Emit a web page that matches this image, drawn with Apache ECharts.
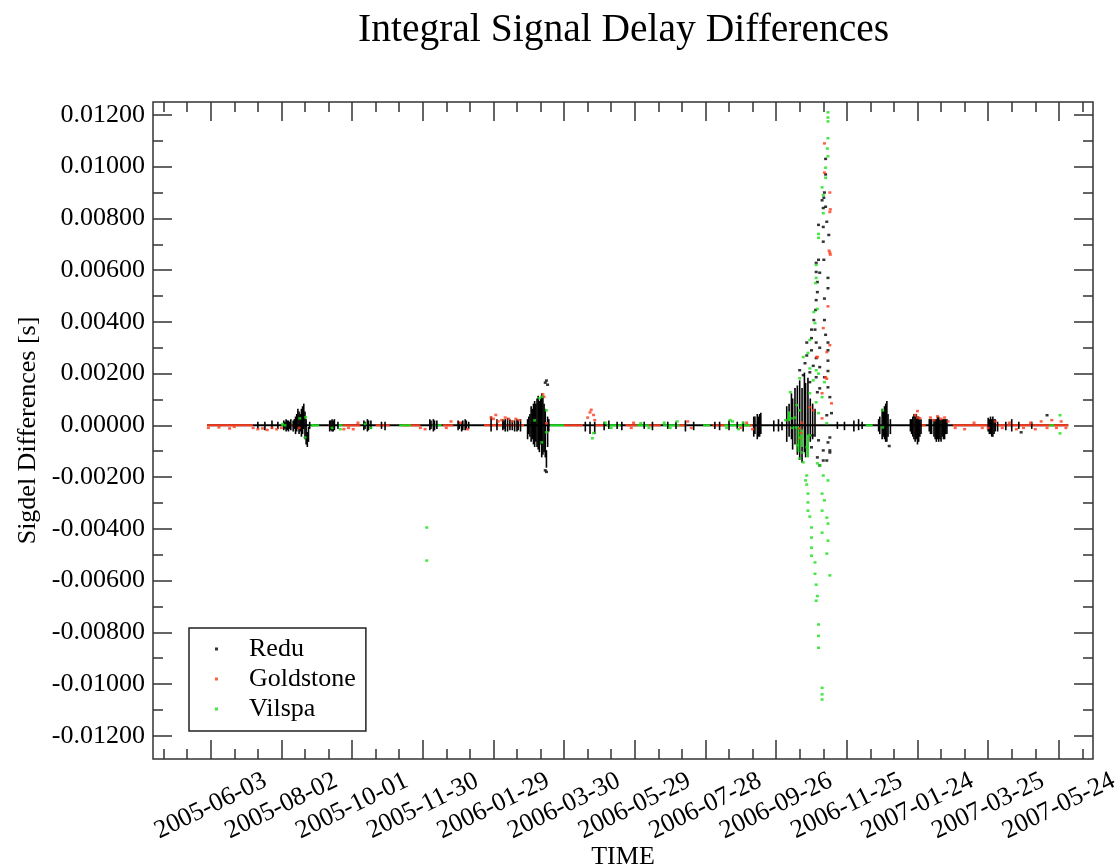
<!DOCTYPE html>
<html><head><meta charset="utf-8">
<script src="https://cdn.jsdelivr.net/npm/echarts@6/dist/echarts.min.js"></script>
<style>html,body{margin:0;padding:0;background:#fff}#chart{width:1120px;height:867px}</style>
</head><body><div id="chart"></div>
<script>
// ---- data (x = days after BASE_DATE, y = values in units of VALUE_UNIT seconds) ----
const BASE_DATE = '2005-06-03';
const VALUE_UNIT = 1e-4;
const seriesNames = ['Redu', 'Goldstone', 'Vilspa'];
const xTickLabels = ['2005-06-03','2005-08-02','2005-10-01','2005-11-30','2006-01-29','2006-03-30',
  '2006-05-29','2006-07-28','2006-09-26','2006-11-25','2007-01-24','2007-03-25','2007-05-24'];
const xMinorTickDays = [-40,-20,20,40,80,100,140,160,200,220,260,280,320,340,380,400,440,460,500,520,
  560,580,620,640,680,700,740];
const yTickValues = [-0.012,-0.010,-0.008,-0.006,-0.004,-0.002,0,0.002,0.004,0.006,0.008,0.010,0.012];
const yMinorTickValues = [-0.011,-0.009,-0.007,-0.005,-0.003,-0.001,0.001,0.003,0.005,0.007,0.009,0.011];

// runs of points sitting on zero: [startDay, endDay, value]
const reduLine = [[-3, 728, 0]];
const goldLine = [[-3,36,0],[62,70,0],[100,104,0],[112,127,0],[140,152,0],[163,178,0],[197,206,0],
  [232,266,0],[300,316,0],[326,334,0],[352,362,0],[372,382,0],[396,404,0],[426,437,0],[453,460,0],
  [596,607,0],[630,728,0]];
const vilLine = [[60,68,0],[86,92,0],[108,112,0],[160,170,0],[188,196,0],[288,300,0],[336,348,0],
  [362,372,0],[384,398,0],[418,424,0],[436,458,0],[556,562,0],[712,716,0]];

// dense same-day clusters: [day, low, high]
const reduBars = [[40,-1,1],[46,-1.5,1],[52,-1,1.5],[57,-1,1],
  [62,-1.5,1.5],[63,-1,1],[64,-2,2],[65,-1.5,1.5],[66,-2,1.5],[67,-1,1],[68,-1.5,2],[70,-2,1.5],[71,-1,2],
  [72,-3,3],[73,-2,4],[74,-1,6],[75,-3,5],[76,-2,4],[77,-4,6],[78,-3,7],[79,-1,8],[80,-5,5],[81,-7,2],[82,-8,-3],[83,-6,-1],[84,-1,1],
  [101,-2,1.5],[102,-1.5,1.5],[103,-2,2],[104,-2,1.5],[105,-1.5,2],[108,-1,1],
  [130,-1.5,1.5],[131,-1,1],[133,-2,2],[134,-1.5,1.5],[136,-1,1.5],[145,-1,1],[148,-1.5,1],
  [186,-1.5,2],[187,-1,1.5],[189,-2,2],[190,-1.5,1.5],[192,-1,1.5],
  [210,-1.5,1.5],[211,-1,1],[213,-2,1],[214,-1.5,1.5],[216,-1.5,2],[217,-1,1.5],[219,-1,1],[238,-2,3],[243,-1.5,2],
  [248,-1.5,2],[249,-1,1.5],[250,-2,2],[252,-2,2.5],[254,-1.5,2],[256,-1.5,1.5],[258,-2,1.5],[260,-2,2],[261,-1.5,1.5],[263,-2,2],
  [269,-5,2],[270,-3,3],[271,-4,4],[272,-6,7],[273,-5,6],[274,-7,8],[275,-8,9],[276,-6,8],[277,-8,10],[278,-9,11],
  [279,-10,9],[280,-7,10],[281,-12,12],[282,-11,11],[283,-10,8],[284,-12,6],[285,-16,-10],[286,-8,3],[287,-2,2],
  [318,-2,1],[322,-3,1],[326,-3,1],[334,-1.5,1],[338,-1,1.5],[345,-1,1],[349,-1.5,1],[368,-1,1],[375,-1.5,1],
  [388,-1,1],[395,-1,1],[403,-2,1.5],[410,-1.5,1],[428,-1,1],[432,-1.5,1],[440,-1.5,1.5],[447,-1,1],[452,-2,1],
  [461,-4,3],[462,-3,3],[464,-5,4],[465,-4,3],[466,-4,4],[467,-3,4.5],[478,-2,1.5],[482,-2,2],[485,-1.5,1],
  [489,-6,7],[491,-4,8],[493,-5,12],[494,-9,10],[496,-7,14],[498,-11,15],[500,-13,17],[502,-14,14],[504,-10,20],
  [505,-12,16],[507,-8,18],[509,-6,10],[511,-5,8],[513,-4,6],
  [532,-1,1],[538,-1.5,1],[546,-2,1.5],[550,-1.5,2],[553,-1,1],
  [567,-2,2],[568,-3,3],[570,-5,6],[571,-4,5],[572,-5,7],[573,-6,8],[574,-6,9],[575,-4,4],[577,-3,2],
  [594,-2,2],[595,-3,2],[596,-4,3],[597,-5,4],[598,-6,3],[599,-5,4],[600,-7,3],[601,-6,3],[602,-4,2],[603,-3,2],
  [610,-2,2],[611,-3,2],[612,-3,2],[614,-4,2],[615,-5,2],[616,-6,2],[617,-5,3],[618,-6,3],[619,-5,2],[620,-6,2],
  [621,-4,2],[622,-5,2],[623,-5,2],[624,-3,2],[625,-3,2],
  [660,-2,2.5],[661,-3,2],[662,-3,3],[663,-4,2],[664,-4,3],[665,-3,2],[666,-2,2],[668,-2,1],
  [675,-1.5,1],[680,-2,2],[686,-1,1],[697,-1,1]];
const vilBars = [[491,2,5],[499,-10,-1],[502,-8,-2],[507,-12,-4]];

// individual points: [day, value]
const reduDots = [[284,16.5],[285,17.3],[286,15.7],[284,-17.4],[285,-18],[576,-8],[710,3.9],[688,-2.7],
  [522,103],[522,97],[521,90],[520.5,88],[519,87],[522,84.5],[520,84],[523,78.7],[520,76.7],[516,77.5],
  [524.7,73.6],[520,71],[516,64],[514,62.8],[520.5,64],[514,59.3],[517,59],[524,57],[515,55.4],[515,51.5],
  [524,53],[521,49],[514,48.4],[513.5,44.6],[512,40.7],[521,40.7],[510,37],[513,37],[522,35],[510,33.7],
  [506,32],[514,32],[524,32],[517,30],[510,29],[524,29],[506,27],[514,26],[524,25],[504.5,24],[511.5,23],
  [517,22.5],[500,21.3],[508.6,20.5],[524,21],[503,19.4],[514,18.6],[521,18.6],[508.6,16.7],[524,14.7],
  [517,14.3],[525.6,10.9],[515,12.8],[527,4.7],[523,3.9],
  [511,-3.9],[516,-5.8],[510,-8.5],[520,-9.7],[515,-12.4],[523,-13.6],[517,-15.5],[525.6,-4.7],[525.6,-9.7],
  [524,-6.6],[525.6,-10.5],[520,-13.6]];
const goldDots = [[-2,-1],[7,-0.8],[16,-1.2],[20,-0.6],[36,-1],[40,-1.5],[44,-1.2],[48,-1.8],[52,-1],[56,-1.5],[60,-1],
  [75,-1],[113,-1.5],[117,-1],[121,-1.5],[125,1],[178,-1],[182,-1.5],[200,-1],[204,1.5],[212,1],[218,-1.5],
  [238,3],[240,2.5],[242,4],[244,1.5],[247,2],[250,3],[253,2.5],[256,1.5],[259,2.5],[262,2],
  [282,12],[283,11],[285,0.8],[320,3],[322,5],[323,6],[325,4],[326,2],
  [357,-1],[359,1],[405,1.5],[408,-1],[450,-1],[455,1],[460,-1.5],
  [521,109],[521,97.7],[525.6,90],[525.6,82.5],[526,83.5],[525,67.5],[525.6,66.7],[526,66],[524,46],[520,37.6],
  [515,26.4],[523,28.3],[522,18.6],[527,8.5],[519,12.4],[511.5,5.8],[514.5,26.4],[523,18],[519,2.7],[508.6,7],
  [500,-1.2],[525.6,31],[500,-5],[501,-3],[502,1],
  [598,4],[600,3],[600,5.5],[602,2.7],[611,3],[614,2],[617,3.5],[620,2.5],[623,3],[626,1.5],
  [632,-1],[640,-1.5],[648,1],[655,-1],[660,-1],[666,1.5],[672,-1],[678,1],[684,-1.5],[690,-1],[696,1],
  [700,-1.5],[705,1.5],[710,-1],[714,2],[718,-1],[722,1.5],[726,-1]];
const vilDots = [[183.4,-39.5],[183.4,-52.3],
  [61,0.5],[63,0],[75.6,2.7],[80.6,3.1],[80,-4.7],[86,0],[103,-1],[110,-1.5],[131,0.5],[136,-1],
  [275,1.9],[279,10.5],[281,11],[285,5.8],[285,-2.7],[281,-6.6],
  [324,-5],[325,-3],[335,1],[340,-1],[365,0.8],[372,-1],[385,1],[390,-1],[396,1.5],
  [438,-1],[441,2],[443,1.5],[448,-1.5],[452,1],[488,2],[494,-1],[496,3],
  [524,121],[524,119],[524,117.5],[524,111],[523.5,107],[524,104],[522,99.6],[522,95.7],[519,92],[520,89],
  [520,82],[516,74],[516,72.5],[514,62],[514,57],[513.5,55],[515,45],[512,43.8],[513,39.5],[508.6,33],
  [507,28],[503,26.4],[508.6,22],[514,21.3],[516,20],[500,18.2],[511.5,17.4],[521,16.7],[492,12.8],
  [508.6,12.4],[519,10.9],[514,8.9],[497.5,7.8],[500,5.8],[516,4.7],[523,0.8],[493,2.7],
  [500,-4.7],[498,-7.8],[502,-10.5],[500,-12.8],[503,-14.3],[506,-19.4],[505,-21.3],[506,-22.9],[507,-26.4],
  [507,-29.8],[507,-33],[508.6,-35.3],[510,-39.5],[510,-43.4],[510,-47.3],[510,-50.4],[513,-53],[513,-57.4],
  [514,-61.6],[515,-66],[514,-67.8],[516,-77],[516,-81.4],[516,-86],[519,-101.5],[519,-104],[519,-106],
  [515,-14.7],[517,-15.5],[520,-19.4],[524,-21.3],[519,-26.4],[521,-29],[519,-33],[523,-35.7],[524,-38],
  [519,-41.5],[524,-44.6],[523,-49.6],[525.6,-58],[497,-0.8],[508.6,-3.9],[506,-8.5],
  [570.5,5.8],[570.5,-0.8],[721,3.9],[721,-3.1]];

// ---- rendering ----
const FONT = 'Liberation Serif';
const COLORS = { Redu: '#000000', Goldstone: '#ff3a1a', Vilspa: '#18e018' };
const DAY_MS = 86400000;
const dayOf = s => Math.round((Date.parse(s + 'T00:00:00Z') - Date.parse(BASE_DATE + 'T00:00:00Z')) / DAY_MS);
const xMajorDays = xTickLabels.map(dayOf);
const labelByDay = {};
xTickLabels.forEach(l => { labelByDay[dayOf(l)] = l; });
const scalePts = arr => arr.map(p => [p[0], p[1] * VALUE_UNIT]);
const scaleBars = arr => arr.map(p => [p[0], p[1] * VALUE_UNIT, p[2] * VALUE_UNIT]);
const scaleRuns = arr => arr.map(p => [p[0], p[1], p[2] * VALUE_UNIT]);

function runRender(color) {
  return function (params, api) {
    const a = api.coord([api.value(0), api.value(2)]);
    const b = api.coord([api.value(1), api.value(2)]);
    return { type: 'rect', shape: { x: a[0], y: a[1] - 1, width: b[0] - a[0], height: 2 }, style: { fill: color } };
  };
}
function barRender(color, w) {
  return function (params, api) {
    const lo = api.coord([api.value(0), api.value(1)]);
    const hi = api.coord([api.value(0), api.value(2)]);
    return { type: 'rect', shape: { x: lo[0] - w / 2, y: hi[1] - 1, width: w, height: Math.max(lo[1] - hi[1] + 2, 2) }, style: { fill: color } };
  };
}

const XMIN = -49, XMAX = 749, YMIN = -0.0129, YMAX = 0.0125;
const tickLine = { color: '#333', width: 1.5 };
function xAx(pos, values, len, labels) {
  return {
    type: 'value', position: pos, min: XMIN, max: XMAX, gridIndex: 0,
    axisLine: { show: false, onZero: false }, splitLine: { show: false },
    axisTick: { show: true, inside: true, length: len, customValues: values, lineStyle: tickLine },
    axisLabel: labels ? {
      show: true, customValues: xMajorDays, formatter: v => labelByDay[Math.round(v)] || '',
      rotate: 26, align: 'center', verticalAlign: 'middle', margin: 47,
      fontFamily: FONT, fontSize: 26, color: '#000'
    } : { show: false },
    name: labels ? 'TIME' : '', nameLocation: 'middle', nameGap: 85, nameMoveOverlap: false,
    nameTextStyle: { fontFamily: FONT, fontSize: 26, color: '#000' }
  };
}
function yAx(pos, values, len, labels) {
  return {
    type: 'value', position: pos, min: YMIN, max: YMAX, gridIndex: 0,
    axisLine: { show: false, onZero: false }, splitLine: { show: false },
    axisTick: { show: true, inside: true, length: len, customValues: values, lineStyle: tickLine },
    axisLabel: labels ? {
      show: true, customValues: yTickValues, formatter: v => v.toFixed(5), margin: 8,
      fontFamily: FONT, fontSize: 26, color: '#000'
    } : { show: false },
    name: labels ? 'Sigdel Differences [s]' : '', nameLocation: 'middle', nameGap: 112, nameMoveOverlap: false,
    nameTextStyle: { fontFamily: FONT, fontSize: 26, color: '#000' }
  };
}

const chart = echarts.init(document.getElementById('chart'), null, { renderer: 'canvas' });
const lineSets = { Redu: reduLine, Goldstone: goldLine, Vilspa: vilLine };
const barSets = { Redu: reduBars, Goldstone: [], Vilspa: vilBars };
const dotSets = { Redu: reduDots, Goldstone: goldDots, Vilspa: vilDots };
const series = [];
seriesNames.forEach((n, i) => {
  series.push({ name: n, type: 'scatter', data: scalePts(dotSets[n]), symbol: 'rect', symbolSize: [3, 2.5],
    itemStyle: { color: COLORS[n] }, z: 10 + i, silent: true, animation: false, clip: true });
});
seriesNames.forEach((n, i) => {
  series.push({ name: n, type: 'custom', renderItem: runRender(COLORS[n]), data: scaleRuns(lineSets[n]),
    encode: { x: [0, 1], y: 2 }, z: 2 + i, silent: true, animation: false, clip: true });
  series.push({ name: n, type: 'custom', renderItem: barRender(COLORS[n], n === 'Redu' ? 1.6 : 2), data: scaleBars(barSets[n]),
    encode: { x: 0, y: [1, 2] }, z: 6 + i, silent: true, animation: false, clip: true });
});

chart.setOption({
  animation: false,
  backgroundColor: '#fff',
  title: { text: 'Integral Signal Delay Differences', left: 353, top: 6,
    textStyle: { fontFamily: FONT, fontSize: 39.5, fontWeight: 'normal', color: '#000' } },
  grid: { left: 153, right: 27, top: 102, bottom: 108, outerBoundsMode: 'none', show: true,
    borderColor: '#333', borderWidth: 1.5, backgroundColor: 'transparent' },
  legend: {
    orient: 'vertical', left: 189, top: 628, padding: [8, 10, 9, 26], itemGap: 4,
    itemWidth: 3, itemHeight: 3, backgroundColor: '#fff', borderColor: '#222', borderWidth: 1.5,
    selectedMode: false,
    data: seriesNames.map(n => ({ name: n, icon: 'rect', itemStyle: { color: COLORS[n] } })),
    textStyle: { fontFamily: FONT, fontSize: 26, color: '#000', lineHeight: 24, padding: [0, 0, 0, 26] }
  },
  xAxis: [xAx('bottom', xMajorDays, 19, true), xAx('bottom', xMinorTickDays, 10, false),
          xAx('top', xMajorDays, 19, false), xAx('top', xMinorTickDays, 10, false)],
  yAxis: [yAx('left', yTickValues, 19, true), yAx('left', yMinorTickValues, 10, false),
          yAx('right', yTickValues, 19, false), yAx('right', yMinorTickValues, 10, false)],
  series: series
});
</script></body></html>
